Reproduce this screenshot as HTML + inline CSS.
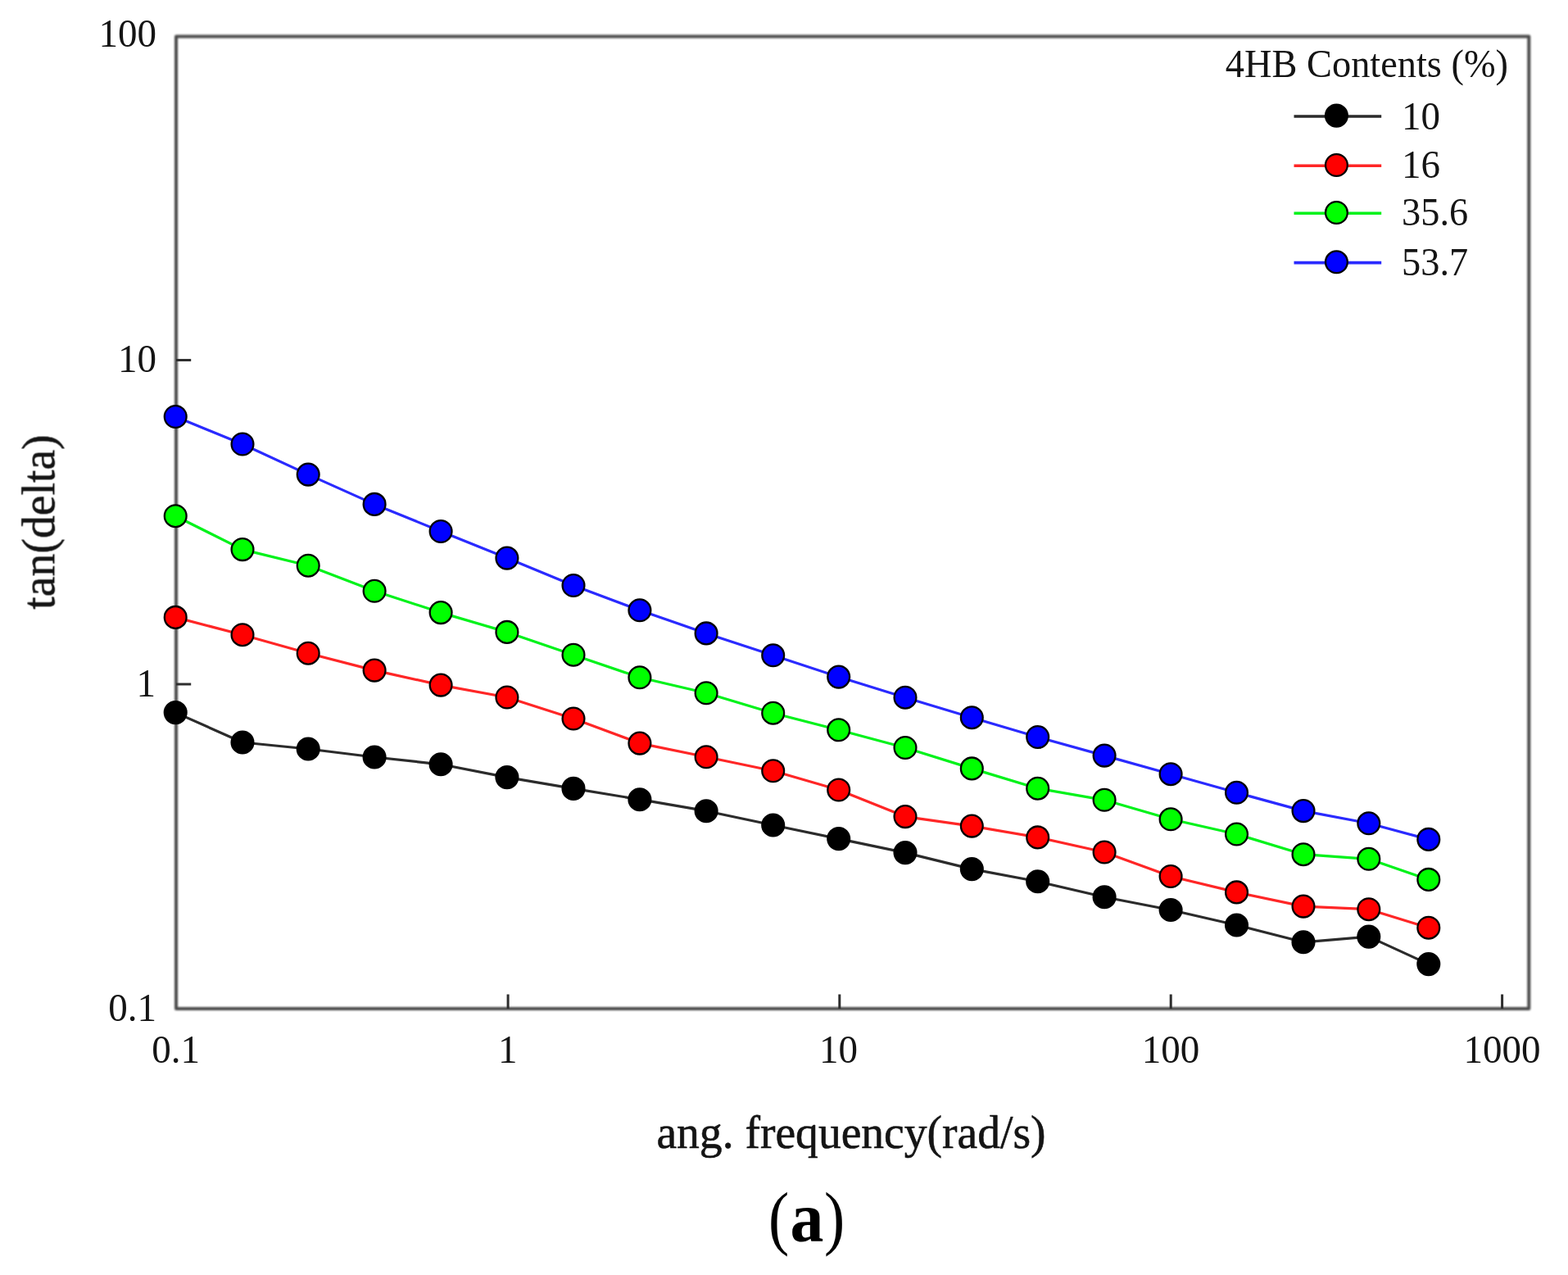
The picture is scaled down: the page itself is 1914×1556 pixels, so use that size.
<!DOCTYPE html>
<html lang="en">
<head>
<meta charset="utf-8">
<title>tan(delta) vs. angular frequency - 4HB Contents (%)</title>
<style>
html,body{margin:0;padding:0;background:#fff;}
body{width:1914px;height:1556px;overflow:hidden;}
svg{display:block;}
text{font-family:'Liberation Serif', 'DejaVu Serif', serif;fill:#141414;stroke:#141414;stroke-width:0.3px;stroke-linejoin:round;}
#cap{fill:#000;stroke:none;}
</style>
</head>
<body>
<svg width="1914" height="1556" viewBox="0 0 1914 1556" role="img" aria-label="tan(delta) versus angular frequency for four 4HB contents">
<rect x="0" y="0" width="1914" height="1556" fill="#ffffff"/>
<!-- plot frame and axis ticks -->
<g id="frame" style="filter:blur(0.9px)">
<rect x="215.0" y="44.5" width="1651.3" height="1186.5" fill="none" stroke="#4a4a4a" stroke-width="4.0" stroke-linejoin="round"/>
</g>
<g id="ticks" style="filter:blur(0.6px)">
<path d="M620.1 1231.0 V1213.6 M1024.8 1231.0 V1213.6 M1429.2 1231.0 V1213.6 M1833.6 1231.0 V1213.6 M215.0 439.6 H233.2 M215.0 834.9 H233.2" fill="none" stroke="#2e2e2e" stroke-width="3.0"/>
</g>
<!-- data series -->
<g id="series" style="filter:blur(0.5px)">
<g id="s-black">
<polyline points="214.2,869.6 296.0,906.0 376.2,914.0 457.1,924.0 538.1,932.8 618.9,948.6 700.0,962.4 780.9,975.7 862.1,989.7 943.7,1007.0 1023.7,1023.6 1105.0,1040.6 1186.3,1060.6 1266.7,1075.8 1348.1,1094.8 1429.1,1110.5 1509.5,1129.0 1591.0,1149.8 1670.8,1143.1 1743.8,1176.6" fill="none" stroke="#2b2b2b" stroke-width="3.2" stroke-linejoin="round"/>
<g fill="#000000" stroke="#000" stroke-width="2.3">
<circle cx="214.2" cy="869.6" r="13.4"/><circle cx="296.0" cy="906.0" r="13.4"/><circle cx="376.2" cy="914.0" r="13.4"/><circle cx="457.1" cy="924.0" r="13.4"/><circle cx="538.1" cy="932.8" r="13.4"/><circle cx="618.9" cy="948.6" r="13.4"/><circle cx="700.0" cy="962.4" r="13.4"/><circle cx="780.9" cy="975.7" r="13.4"/><circle cx="862.1" cy="989.7" r="13.4"/><circle cx="943.7" cy="1007.0" r="13.4"/><circle cx="1023.7" cy="1023.6" r="13.4"/><circle cx="1105.0" cy="1040.6" r="13.4"/><circle cx="1186.3" cy="1060.6" r="13.4"/><circle cx="1266.7" cy="1075.8" r="13.4"/><circle cx="1348.1" cy="1094.8" r="13.4"/><circle cx="1429.1" cy="1110.5" r="13.4"/><circle cx="1509.5" cy="1129.0" r="13.4"/><circle cx="1591.0" cy="1149.8" r="13.4"/><circle cx="1670.8" cy="1143.1" r="13.4"/><circle cx="1743.8" cy="1176.6" r="13.4"/>
</g>
</g>
<g id="s-red">
<polyline points="214.2,753.4 296.0,774.7 376.2,797.2 457.1,818.1 538.1,836.1 618.9,851.0 700.0,877.0 780.9,907.1 862.1,923.8 943.7,940.8 1023.7,964.0 1105.0,996.6 1186.3,1008.1 1266.7,1021.9 1348.1,1040.0 1429.1,1069.5 1509.5,1088.9 1591.0,1106.1 1670.8,1109.7 1743.8,1132.2" fill="none" stroke="#ff2626" stroke-width="3.2" stroke-linejoin="round"/>
<g fill="#ff0000" stroke="#000" stroke-width="2.3">
<circle cx="214.2" cy="753.4" r="13.4"/><circle cx="296.0" cy="774.7" r="13.4"/><circle cx="376.2" cy="797.2" r="13.4"/><circle cx="457.1" cy="818.1" r="13.4"/><circle cx="538.1" cy="836.1" r="13.4"/><circle cx="618.9" cy="851.0" r="13.4"/><circle cx="700.0" cy="877.0" r="13.4"/><circle cx="780.9" cy="907.1" r="13.4"/><circle cx="862.1" cy="923.8" r="13.4"/><circle cx="943.7" cy="940.8" r="13.4"/><circle cx="1023.7" cy="964.0" r="13.4"/><circle cx="1105.0" cy="996.6" r="13.4"/><circle cx="1186.3" cy="1008.1" r="13.4"/><circle cx="1266.7" cy="1021.9" r="13.4"/><circle cx="1348.1" cy="1040.0" r="13.4"/><circle cx="1429.1" cy="1069.5" r="13.4"/><circle cx="1509.5" cy="1088.9" r="13.4"/><circle cx="1591.0" cy="1106.1" r="13.4"/><circle cx="1670.8" cy="1109.7" r="13.4"/><circle cx="1743.8" cy="1132.2" r="13.4"/>
</g>
</g>
<g id="s-green">
<polyline points="214.2,629.7 296.0,670.6 376.2,690.2 457.1,721.3 538.1,747.6 618.9,771.4 700.0,799.2 780.9,826.8 862.1,845.8 943.7,870.2 1023.7,890.8 1105.0,912.5 1186.3,937.9 1266.7,962.2 1348.1,976.3 1429.1,999.8 1509.5,1018.0 1591.0,1042.7 1670.8,1048.3 1743.8,1073.4" fill="none" stroke="#00f21a" stroke-width="3.2" stroke-linejoin="round"/>
<g fill="#00ff00" stroke="#000" stroke-width="2.3">
<circle cx="214.2" cy="629.7" r="13.4"/><circle cx="296.0" cy="670.6" r="13.4"/><circle cx="376.2" cy="690.2" r="13.4"/><circle cx="457.1" cy="721.3" r="13.4"/><circle cx="538.1" cy="747.6" r="13.4"/><circle cx="618.9" cy="771.4" r="13.4"/><circle cx="700.0" cy="799.2" r="13.4"/><circle cx="780.9" cy="826.8" r="13.4"/><circle cx="862.1" cy="845.8" r="13.4"/><circle cx="943.7" cy="870.2" r="13.4"/><circle cx="1023.7" cy="890.8" r="13.4"/><circle cx="1105.0" cy="912.5" r="13.4"/><circle cx="1186.3" cy="937.9" r="13.4"/><circle cx="1266.7" cy="962.2" r="13.4"/><circle cx="1348.1" cy="976.3" r="13.4"/><circle cx="1429.1" cy="999.8" r="13.4"/><circle cx="1509.5" cy="1018.0" r="13.4"/><circle cx="1591.0" cy="1042.7" r="13.4"/><circle cx="1670.8" cy="1048.3" r="13.4"/><circle cx="1743.8" cy="1073.4" r="13.4"/>
</g>
</g>
<g id="s-blue">
<polyline points="214.2,508.5 296.0,542.0 376.2,579.1 457.1,615.4 538.1,648.5 618.9,681.1 700.0,714.5 780.9,744.8 862.1,772.9 943.7,799.8 1023.7,826.1 1105.0,851.2 1186.3,875.7 1266.7,899.5 1348.1,922.1 1429.1,944.7 1509.5,967.3 1591.0,989.6 1670.8,1004.8 1743.8,1024.4" fill="none" stroke="#2a2aff" stroke-width="3.2" stroke-linejoin="round"/>
<g fill="#0000ff" stroke="#000" stroke-width="2.3">
<circle cx="214.2" cy="508.5" r="13.4"/><circle cx="296.0" cy="542.0" r="13.4"/><circle cx="376.2" cy="579.1" r="13.4"/><circle cx="457.1" cy="615.4" r="13.4"/><circle cx="538.1" cy="648.5" r="13.4"/><circle cx="618.9" cy="681.1" r="13.4"/><circle cx="700.0" cy="714.5" r="13.4"/><circle cx="780.9" cy="744.8" r="13.4"/><circle cx="862.1" cy="772.9" r="13.4"/><circle cx="943.7" cy="799.8" r="13.4"/><circle cx="1023.7" cy="826.1" r="13.4"/><circle cx="1105.0" cy="851.2" r="13.4"/><circle cx="1186.3" cy="875.7" r="13.4"/><circle cx="1266.7" cy="899.5" r="13.4"/><circle cx="1348.1" cy="922.1" r="13.4"/><circle cx="1429.1" cy="944.7" r="13.4"/><circle cx="1509.5" cy="967.3" r="13.4"/><circle cx="1591.0" cy="989.6" r="13.4"/><circle cx="1670.8" cy="1004.8" r="13.4"/><circle cx="1743.8" cy="1024.4" r="13.4"/>
</g>
</g>
</g>
<!-- legend -->
<g id="legend-keys" style="filter:blur(0.5px)">
<line x1="1579.5" y1="142.0" x2="1686.2" y2="142.0" stroke="#2b2b2b" stroke-width="3.6"/><circle cx="1631.4" cy="141.1" r="13.4" fill="#000000" stroke="#000" stroke-width="2.3"/>
<line x1="1579.5" y1="202.3" x2="1686.2" y2="202.3" stroke="#ff2626" stroke-width="3.6"/><circle cx="1631.4" cy="201.5" r="13.4" fill="#ff0000" stroke="#000" stroke-width="2.3"/>
<line x1="1579.5" y1="260.3" x2="1686.2" y2="260.3" stroke="#00f21a" stroke-width="3.6"/><circle cx="1631.4" cy="259.5" r="13.4" fill="#00ff00" stroke="#000" stroke-width="2.3"/>
<line x1="1579.5" y1="320.6" x2="1686.2" y2="320.6" stroke="#2a2aff" stroke-width="3.6"/><circle cx="1631.4" cy="319.8" r="13.4" fill="#0000ff" stroke="#000" stroke-width="2.3"/>
</g>
<g id="legend-text" style="filter:blur(0.6px)">
<text id="ltitle" transform="translate(1841.0,93.8) scale(0.937,1)" font-size="49.5" text-anchor="end" style="stroke-width:0px">4HB Contents (%)</text>
<text id="l10" transform="translate(1711.1,158.4) scale(0.96,1)" font-size="49" text-anchor="start" style="stroke-width:0px">10</text>
<text id="l16" transform="translate(1711.1,217.3) scale(0.96,1)" font-size="49" text-anchor="start" style="stroke-width:0px">16</text>
<text id="l356" transform="translate(1711.1,274.9) scale(0.945,1)" font-size="49" text-anchor="start" style="stroke-width:0px">35.6</text>
<text id="l537" transform="translate(1711.1,336.4) scale(0.945,1)" font-size="49" text-anchor="start" style="stroke-width:0px">53.7</text>
</g>
<!-- axis tick labels -->
<g id="tick-labels" style="filter:blur(0.6px)">
<text id="yt100" transform="translate(191.0,57.4) scale(0.96,1)" font-size="49" text-anchor="end" style="stroke-width:0px">100</text>
<text id="yt10" transform="translate(191.0,454.2) scale(0.96,1)" font-size="49" text-anchor="end" style="stroke-width:0px">10</text>
<text id="yt1" transform="translate(190.0,850.0) scale(0.96,1)" font-size="49" text-anchor="end" style="stroke-width:0px">1</text>
<text id="yt01" transform="translate(191.0,1246.4) scale(0.96,1)" font-size="49" text-anchor="end" style="stroke-width:0px">0.1</text>
<text id="xt01" transform="translate(214.7,1296.5) scale(0.96,1)" font-size="49" text-anchor="middle" style="stroke-width:0px">0.1</text>
<text id="xt1" transform="translate(619.7,1296.5) scale(0.96,1)" font-size="49" text-anchor="middle" style="stroke-width:0px">1</text>
<text id="xt10" transform="translate(1023.6,1296.5) scale(0.96,1)" font-size="49" text-anchor="middle" style="stroke-width:0px">10</text>
<text id="xt100" transform="translate(1428.9,1296.5) scale(0.96,1)" font-size="49" text-anchor="middle" style="stroke-width:0px">100</text>
<text id="xt1000" transform="translate(1833.6,1296.5) scale(0.96,1)" font-size="49" text-anchor="middle" style="stroke-width:0px">1000</text>
</g>
<!-- axis titles -->
<g id="axis-titles" style="filter:blur(0.6px)">
<text id="ylabel" transform="translate(66.3,637) rotate(-90) scale(0.96,1)" font-size="58" text-anchor="middle" style="stroke-width:0.6px">tan(delta)</text>
<text id="xlabel" transform="translate(1039,1400.6) scale(0.975,1)" font-size="57" text-anchor="middle" style="stroke-width:0.6px">ang. frequency(rad/s)</text>
</g>
<!-- sub-figure caption -->
<text id="cap" x="938.0" y="1515"><tspan font-size="86.9" dy="-0.2" textLength="25.2" lengthAdjust="spacingAndGlyphs">(</tspan><tspan font-size="87" font-weight="bold" dy="0.2" dx="1.2" textLength="40.9" lengthAdjust="spacingAndGlyphs">a</tspan><tspan font-size="86.9" dy="-0.2" dx="0.6" textLength="25.2" lengthAdjust="spacingAndGlyphs">)</tspan></text>
</svg>
</body>
</html>
